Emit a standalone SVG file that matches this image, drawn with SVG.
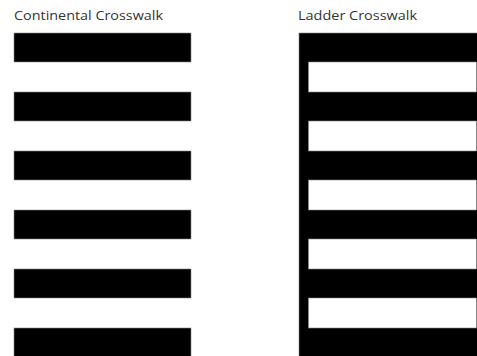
<svg xmlns="http://www.w3.org/2000/svg" width="477" height="356" viewBox="0 0 477 356">
<style>
.t{font-family:"Open Sans","Liberation Sans",sans-serif;font-size:13px;fill:#333}
.b{fill:#000;stroke:#888;stroke-width:0.6}
.w{fill:#fff;stroke:#888;stroke-width:0.6}
</style>
<rect width="477" height="356" fill="#fff"/>
<g id="continental">
<text class="t" x="14" y="20" textLength="149" lengthAdjust="spacingAndGlyphs">Continental Crosswalk</text>
<rect class="b" x="14" y="33" width="177" height="29"/>
<rect class="b" x="14" y="92" width="177" height="29"/>
<rect class="b" x="14" y="151" width="177" height="29"/>
<rect class="b" x="14" y="210" width="177" height="29"/>
<rect class="b" x="14" y="269" width="177" height="29"/>
<rect class="b" x="14" y="328" width="177" height="29"/>
</g>
<g id="ladder">
<text class="t" x="298" y="20" textLength="119" lengthAdjust="spacingAndGlyphs">Ladder Crosswalk</text>
<rect class="b" x="299" y="33" width="179" height="324"/>
<rect class="w" x="308.5" y="62" width="168" height="30"/>
<rect class="w" x="308.5" y="121" width="168" height="30"/>
<rect class="w" x="308.5" y="180" width="168" height="30"/>
<rect class="w" x="308.5" y="239" width="168" height="30"/>
<rect class="w" x="308.5" y="298" width="168" height="30"/>
</g>
</svg>
